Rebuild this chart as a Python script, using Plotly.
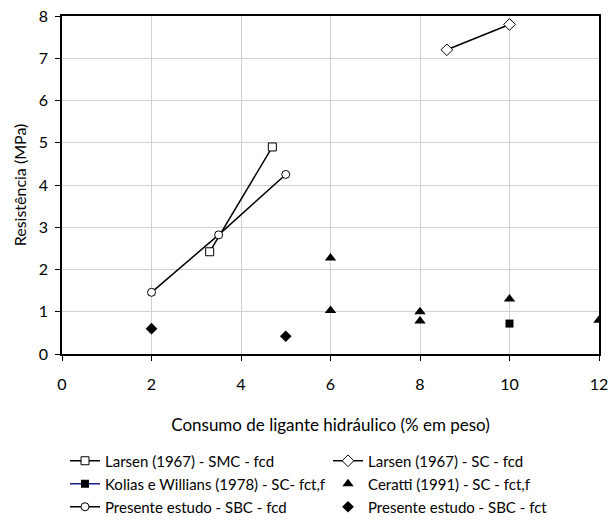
import plotly.graph_objects as go

larsen_smc_x = [3.3, 4.7]
larsen_smc_y = [2.42, 4.9]
larsen_sc_x = [8.6, 10]
larsen_sc_y = [7.2, 7.8]
kolias_x = [10]
kolias_y = [0.72]
ceratti_x = [6, 6, 8, 8, 10, 12]
ceratti_y = [2.27, 1.03, 1.0, 0.78, 1.3, 0.8]
presente_fcd_x = [2, 3.5, 5]
presente_fcd_y = [1.46, 2.82, 4.25]
presente_fct_x = [2, 5]
presente_fct_y = [0.6, 0.42]

FONT = "Lato, 'Open Sans', sans-serif"

fig = go.Figure()
fig.add_trace(go.Scatter(x=larsen_smc_x, y=larsen_smc_y, mode="lines+markers",
    name="Larsen (1967) - SMC - fcd", legend="legend", line=dict(color="black", width=1.5),
    marker=dict(symbol="square", size=8, color="white", line=dict(color="black", width=1))))
fig.add_trace(go.Scatter(x=larsen_sc_x, y=larsen_sc_y, mode="lines+markers",
    name="Larsen (1967) - SC - fcd", legend="legend", line=dict(color="black", width=1.5),
    marker=dict(symbol="diamond", size=9, color="white", line=dict(color="black", width=1))))
fig.add_trace(go.Scatter(x=kolias_x, y=kolias_y, mode="lines+markers",
    name="Kolias e Willians (1978) - SC- fct,f", legend="legend2",
    line=dict(color="#1a1a8c", width=1.5),
    marker=dict(symbol="square", size=8, color="black")))
fig.add_trace(go.Scatter(x=ceratti_x, y=ceratti_y, mode="markers",
    name="Ceratti (1991) - SC - fct,f", legend="legend2",
    marker=dict(symbol="triangle-up", size=10, color="black")))
fig.add_trace(go.Scatter(x=presente_fcd_x, y=presente_fcd_y, mode="lines+markers",
    name="Presente estudo - SBC - fcd", legend="legend3", line=dict(color="black", width=1.5),
    marker=dict(symbol="circle", size=8, color="white", line=dict(color="black", width=1))))
fig.add_trace(go.Scatter(x=presente_fct_x, y=presente_fct_y, mode="markers",
    name="Presente estudo - SBC - fct", legend="legend3",
    marker=dict(symbol="diamond", size=9, color="black")))

leg_common = dict(orientation="h", x=0.0056, xanchor="left", yanchor="middle",
                  entrywidth=218, entrywidthmode="pixels", font=dict(size=15),
                  itemwidth=30, bgcolor="rgba(0,0,0,0)")

fig.update_layout(
    width=611, height=521,
    margin=dict(l=62, r=12, t=16, b=167, autoexpand=False),
    paper_bgcolor="white", plot_bgcolor="white",
    font=dict(family=FONT, size=16, color="black"),
    legend=dict(y=-0.3166, **leg_common),
    legend2=dict(y=-0.3846, **leg_common),
    legend3=dict(y=-0.4527, **leg_common),
)
fig.update_xaxes(range=[0, 12], dtick=2, showgrid=True, gridcolor="#d0d0d0", gridwidth=1,
    showline=True, linecolor="black", linewidth=1.5, mirror=True, automargin=False,
    ticks="outside", ticklen=5, tickcolor="black", tickfont=dict(size=16),
    ticklabelstandoff=10, zeroline=False,
    title=dict(text="Consumo de ligante hidráulico (% em peso)", font=dict(size=17), standoff=27))
fig.update_yaxes(range=[0, 8], dtick=1, showgrid=True, gridcolor="#d0d0d0", gridwidth=1,
    showline=True, linecolor="black", linewidth=1.5, mirror=True, automargin=False,
    ticks="outside", ticklen=5, tickcolor="black", tickfont=dict(size=16),
    ticklabelstandoff=4, zeroline=False,
    title=dict(text="Resistência (MPa)", font=dict(size=16), standoff=8))

fig.write_html("out.html")
